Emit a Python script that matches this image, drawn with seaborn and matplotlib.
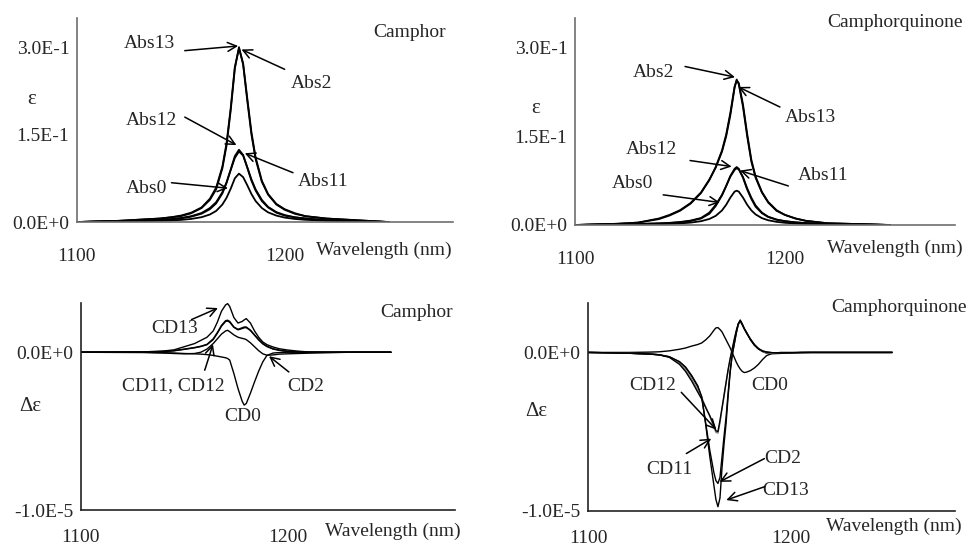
import numpy as np
import pandas as pd
import seaborn as sns
import matplotlib.pyplot as plt

# ---- data ----
# absorption, camphor (wavelength grid in nm)
abs_camphor_wl = [1100, 1120, 1130, 1140, 1145, 1150, 1155, 1160, 1164, 1167, 1170, 1172, 1174, 1176,
                  1178, 1180, 1182, 1184, 1186, 1189, 1192, 1196, 1200, 1205, 1210, 1220, 1230, 1250]
camphor_abs13 = [0.000, 0.002, 0.004, 0.006, 0.008, 0.010, 0.015, 0.024, 0.038, 0.056, 0.092, 0.131, 0.191, 0.263,
                 0.300, 0.270, 0.208, 0.150, 0.108, 0.069, 0.047, 0.030, 0.021, 0.014, 0.010, 0.006, 0.004, 0.000]
camphor_abs2 = [0.000, 0.002, 0.004, 0.006, 0.008, 0.011, 0.016, 0.025, 0.040, 0.059, 0.095, 0.135, 0.195, 0.266,
                0.298, 0.272, 0.212, 0.154, 0.111, 0.071, 0.048, 0.031, 0.022, 0.015, 0.010, 0.006, 0.004, 0.000]
camphor_abs12 = [0.000, 0.0015, 0.0022, 0.0035, 0.0046, 0.0063, 0.0092, 0.0143, 0.022, 0.032, 0.049, 0.067, 0.090, 0.113,
                 0.124, 0.115, 0.093, 0.071, 0.054, 0.036, 0.025, 0.016, 0.011, 0.008, 0.006, 0.003, 0.002, 0.000]
camphor_abs11 = [0.000, 0.0015, 0.0024, 0.0038, 0.0050, 0.0068, 0.0100, 0.0155, 0.024, 0.034, 0.051, 0.068, 0.089, 0.110,
                 0.121, 0.114, 0.094, 0.073, 0.056, 0.038, 0.026, 0.017, 0.012, 0.008, 0.006, 0.003, 0.002, 0.000]
camphor_abs0 = [0.000, 0.0009, 0.0013, 0.0020, 0.0027, 0.0036, 0.0053, 0.0083, 0.0129, 0.019, 0.030, 0.0415, 0.057, 0.075,
                0.083, 0.077, 0.063, 0.048, 0.036, 0.024, 0.0166, 0.011, 0.0076, 0.0052, 0.0038, 0.0022, 0.0015, 0.000]

# absorption, camphorquinone
abs_cq_wl = [1100, 1120, 1130, 1140, 1145, 1150, 1155, 1160, 1164, 1167, 1170, 1172, 1174, 1176, 1177,
             1178, 1180, 1182, 1184, 1186, 1189, 1192, 1196, 1200, 1205, 1210, 1220, 1230, 1250]
cq_abs2 = [0.000, 0.002, 0.004, 0.011, 0.017, 0.025, 0.037, 0.055, 0.077, 0.097, 0.124, 0.150, 0.186, 0.232, 0.246,
           0.238, 0.200, 0.150, 0.107, 0.080, 0.055, 0.038, 0.024, 0.017, 0.011, 0.007, 0.003, 0.002, 0.000]
cq_abs13 = [0.000, 0.002, 0.004, 0.010, 0.016, 0.024, 0.036, 0.054, 0.076, 0.098, 0.126, 0.153, 0.190, 0.234, 0.244,
            0.240, 0.204, 0.154, 0.110, 0.082, 0.056, 0.039, 0.025, 0.017, 0.011, 0.007, 0.003, 0.002, 0.000]
cq_abs12 = [0.000, 0.0011, 0.0016, 0.0025, 0.0033, 0.0046, 0.0068, 0.0109, 0.019, 0.032, 0.050, 0.066, 0.083, 0.095, 0.098,
            0.095, 0.080, 0.060, 0.044, 0.031, 0.020, 0.0135, 0.0089, 0.0063, 0.0043, 0.0031, 0.0019, 0.0012, 0.000]
cq_abs11 = [0.000, 0.0012, 0.0018, 0.0028, 0.0036, 0.0050, 0.0074, 0.0118, 0.021, 0.034, 0.051, 0.066, 0.082, 0.093, 0.096,
            0.094, 0.081, 0.062, 0.046, 0.033, 0.021, 0.014, 0.0092, 0.0065, 0.0045, 0.0032, 0.0020, 0.0012, 0.000]
cq_abs0 = [0.000, 0.0006, 0.0009, 0.0015, 0.0019, 0.0027, 0.0040, 0.0064, 0.0102, 0.0154, 0.0246, 0.0342, 0.0464, 0.0564, 0.058,
           0.0564, 0.0464, 0.0342, 0.0246, 0.0179, 0.0116, 0.0080, 0.0053, 0.0037, 0.0026, 0.0018, 0.0011, 0.0007, 0.000]

# CD, camphor (values in 1E-6)
cd_camphor_wl = [1100, 1130, 1140, 1145, 1150, 1155, 1158, 1161, 1164, 1166, 1168, 1170, 1171, 1172, 1174, 1176,
                 1178, 1179, 1180, 1182, 1184, 1186, 1188, 1190, 1193, 1196, 1200, 1205, 1210, 1220, 1230, 1250]
camphor_cd13 = [0, 0.02, 0.08, 0.15, 0.35, 0.55, 0.75, 0.95, 1.35, 1.9, 2.6, 3.0, 3.08, 2.9, 2.2, 1.85,
                1.95, 2.05, 2.13, 1.85, 1.35, 0.95, 0.65, 0.48, 0.33, 0.22, 0.14, 0.07, 0.02, 0, 0, 0]
camphor_cd11 = [0, 0.01, 0.05, 0.1, 0.2, 0.3, 0.38, 0.5, 0.85, 1.25, 1.7, 2.0, 2.03, 1.95, 1.6, 1.45,
                1.55, 1.6, 1.6, 1.4, 1.1, 0.8, 0.55, 0.38, 0.22, 0.13, 0.06, 0.02, 0, 0, 0, 0]
camphor_cd12 = [0, 0.01, 0.04, 0.09, 0.18, 0.28, 0.36, 0.48, 0.8, 1.2, 1.65, 1.95, 1.98, 1.9, 1.58, 1.42,
                1.5, 1.55, 1.56, 1.38, 1.08, 0.78, 0.53, 0.36, 0.2, 0.12, 0.05, 0.02, 0, 0, 0, 0]
camphor_cd2 = [0, -0.02, -0.05, -0.08, -0.1, -0.08, 0.0, 0.2, 0.55, 0.85, 1.15, 1.35, 1.39, 1.3, 1.1, 0.95,
               0.88, 0.85, 0.8, 0.6, 0.35, 0.1, -0.1, -0.19, -0.17, -0.12, -0.1, -0.08, -0.06, -0.03, 0, 0]
camphor_cd0 = [0, 0, -0.03, -0.05, -0.08, -0.1, -0.12, -0.15, -0.2, -0.25, -0.3, -0.35, -0.4, -0.5, -1.35, -2.3,
               -3.1, -3.35, -3.25, -2.6, -1.88, -1.2, -0.61, -0.2, -0.05, -0.02, 0, 0, 0, 0, 0, 0]

# CD, camphorquinone (values in 1E-6)
cd_cq_wl = [1100, 1120, 1130, 1135, 1140, 1145, 1148, 1151, 1154, 1156, 1158, 1160, 1162, 1163, 1164, 1165,
            1166, 1167, 1168, 1169, 1170, 1171, 1172, 1173, 1174, 1175, 1176, 1177, 1178, 1180, 1182, 1184,
            1186, 1188, 1191, 1195, 1200, 1205, 1210, 1250]
cq_cd12 = [0, -0.05, -0.1, -0.15, -0.31, -0.75, -1.2, -1.8, -2.5, -2.95, -3.5, -4.0, -4.6, -4.95, -5.0, -4.3,
           -3.5, -2.7, -1.9, -1.1, -0.4, 0.2, 0.8, 1.36, 1.8, 2.0, 1.75, 1.5, 1.3, 0.8, 0.45, 0.22,
           0.08, 0.02, -0.02, -0.04, -0.02, -0.01, 0, 0]
cq_cd11 = [0, -0.05, -0.1, -0.14, -0.28, -0.68, -1.1, -1.65, -2.35, -2.85, -3.45, -4.05, -4.75, -5.05, -5.1, -4.45,
           -3.6, -2.8, -1.95, -1.15, -0.45, 0.15, 0.75, 1.3, 1.75, 1.97, 1.75, 1.5, 1.3, 0.82, 0.47, 0.22,
           0.06, -0.03, -0.06, -0.05, -0.03, -0.01, 0, 0]
cq_cd2 = [0, -0.05, -0.1, -0.15, -0.28, -0.6, -0.95, -1.5, -2.15, -2.85, -4.5, -6.2, -7.6, -8.1, -8.28, -7.9,
          -6.6, -5.3, -4.1, -2.6, -1.2, -0.15, 0.5, 1.2, 1.75, 2.0, 1.78, 1.5, 1.25, 0.85, 0.48, 0.22,
          0.06, -0.05, -0.08, -0.06, -0.03, -0.01, 0, 0]
cq_cd13 = [0, -0.05, -0.1, -0.15, -0.27, -0.58, -0.92, -1.45, -2.1, -2.8, -4.6, -6.6, -8.4, -9.3, -9.75, -9.2,
           -7.3, -5.8, -4.5, -2.8, -1.3, -0.2, 0.5, 1.2, 1.8, 2.05, 1.8, 1.5, 1.25, 0.85, 0.5, 0.25,
           0.1, 0.03, -0.02, -0.03, -0.02, 0, 0, 0]
cq_cd0 = [0, 0, 0.02, 0.04, 0.1, 0.2, 0.28, 0.4, 0.5, 0.6, 0.8, 1.05, 1.4, 1.55, 1.57, 1.45,
          1.3, 1.05, 0.8, 0.55, 0.3, 0.0, -0.3, -0.6, -0.85, -1.05, -1.2, -1.27, -1.25, -1.15, -0.98, -0.75,
          -0.45, -0.2, -0.05, 0, 0, 0, 0, 0]


def longDf(wl, curves, scale=1.0):
    rows = []
    for name, vals in curves.items():
        for w, v in zip(wl, vals):
            rows.append((name, w, v * scale))
    return pd.DataFrame(rows, columns=['curve', 'Wavelength', 'value'])


sns.set_style('white')
plt.rcParams['font.family'] = ['Liberation Serif', 'DejaVu Serif']
plt.rcParams['font.size'] = 14

fig = plt.figure(figsize=(9.73, 5.49), dpi=100)


def drawPanel(rect, df, colors, lw, yticks, ylabels, ylim, ylab, ylab_pos, xlab_pos, title, title_xy,
              notes, spine_color, xpad=14):
    ax = fig.add_axes(rect)
    sns.lineplot(data=df, x='Wavelength', y='value', hue='curve', palette=colors, estimator=None,
                 errorbar=None, linewidth=lw, legend=False, ax=ax)
    ax.set_xlim(1100, 1281)
    ax.set_ylim(*ylim)
    ax.set_xticks([1100, 1200])
    ax.set_xticklabels(['1100', '1200'])
    ax.set_yticks(yticks)
    ax.set_yticklabels(ylabels)
    ax.set_xlabel('')
    ax.set_ylabel('')
    for s in ['top', 'right']:
        ax.spines[s].set_visible(False)
    for s in ['left', 'bottom']:
        ax.spines[s].set_color(spine_color)
        ax.spines[s].set_linewidth(1.2)
    ax.tick_params(axis='x', direction='out', length=5, width=1.2, pad=xpad, color=spine_color, labelsize=14)
    ax.tick_params(axis='y', direction='inout', length=7, width=1.2, pad=2, color=spine_color, labelsize=14)
    ax.text(ylab_pos[0], ylab_pos[1], ylab, transform=ax.transAxes, ha='center', va='center', fontsize=15)
    ax.text(xlab_pos[0], xlab_pos[1], 'Wavelength (nm)', transform=ax.transAxes,
            ha='center', va='center', fontsize=14)
    ax.text(title_xy[0], title_xy[1], title, ha='center', va='center', fontsize=14)
    for label, txy, tail, head in notes:
        ax.text(txy[0], txy[1], label, ha='center', va='center', fontsize=14)
        if tail is not None:
            ax.annotate('', xy=head, xytext=tail,
                        arrowprops=dict(arrowstyle='->', color='black', lw=1.1,
                                        shrinkA=0, shrinkB=0, mutation_scale=16))
    return ax


# Camphor absorption
df = longDf(abs_camphor_wl, {'Abs0': camphor_abs0, 'Abs11': camphor_abs11, 'Abs12': camphor_abs12,
                             'Abs2': camphor_abs2, 'Abs13': camphor_abs13})
drawPanel([0.0791, 0.5956, 0.3864, 0.3716], df, ['black'] * 5, 1.3,
          [0, 0.15, 0.3], ['0.0E+0', '1.5E-1', '3.0E-1'], (0, 0.35),
          'ε', (-0.12, 0.6), (0.815, -0.137), 'Camphor', (1260, 0.325),
          [('Abs13', (1135.1, 0.307), (1151.9, 0.294), (1177.6, 0.302)),
           ('Abs2', (1212.8, 0.238), (1200, 0.262), (1179.2, 0.296)),
           ('Abs12', (1135.9, 0.175), (1151.9, 0.180), (1176.8, 0.132)),
           ('Abs11', (1218.4, 0.069), (1204, 0.0846), (1180.8, 0.118)),
           ('Abs0', (1133.5, 0.058), (1145.5, 0.0674), (1172.7, 0.058))],
          '#6e6e6e')

# Camphorquinone absorption
df = longDf(abs_cq_wl, {'Abs0': cq_abs0, 'Abs11': cq_abs11, 'Abs12': cq_abs12,
                        'Abs2': cq_abs2, 'Abs13': cq_abs13})
drawPanel([0.591, 0.5902, 0.3905, 0.377], df, ['black'] * 5, 1.3,
          [0, 0.15, 0.3], ['0.0E+0', '1.5E-1', '3.0E-1'], (0, 0.35),
          'ε', (-0.105, 0.564), (0.842, -0.113), 'Camphorquinone', (1252.4, 0.343),
          [('Abs2', (1137.3, 0.258), (1152.4, 0.268), (1176.2, 0.250)),
           ('Abs13', (1211.9, 0.181), (1197.6, 0.1995), (1177.8, 0.2334)),
           ('Abs12', (1136.5, 0.128), (1154.8, 0.109), (1174.6, 0.0988)),
           ('Abs11', (1218.2, 0.083), (1201.6, 0.066), (1178.6, 0.092)),
           ('Abs0', (1127.5, 0.0707), (1142, 0.051), (1169, 0.038))],
          '#6e6e6e')

# Camphor CD
e6 = 1e-6
df = longDf(cd_camphor_wl, {'CD0': camphor_cd0, 'CD2': camphor_cd2, 'CD11': camphor_cd11,
                            'CD12': camphor_cd12, 'CD13': camphor_cd13}, scale=e6)
drawPanel([0.0832, 0.071, 0.3844, 0.3765], df, ['black'] * 5, 1.0,
          [-1e-5, 0], ['-1.0E-5', '0.0E+0'], (-1e-5, 3.1e-6),
          'Δε', (-0.136, 0.5), (0.835, -0.105), 'Camphor', (1262.2, 2.55 * e6),
          [('CD13', (1145.4, 1.5 * e6), (1153.5, 2.07 * e6), (1166.3, 2.8 * e6)),
           ('CD11, CD12', (1144.6, -2.09 * e6), (1159.9, -1.14 * e6), (1163.9, 0.5 * e6)),
           ('CD2', (1209, -2.2 * e6), (1200.6, -1.25 * e6), (1191, -0.25 * e6)),
           ('CD0', (1178.1, -4.05 * e6), None, None)],
          '#222222', xpad=9)

# Camphorquinone CD
df = longDf(cd_cq_wl, {'CD0': cq_cd0, 'CD2': cq_cd2, 'CD11': cq_cd11,
                       'CD12': cq_cd12, 'CD13': cq_cd13}, scale=e6)
drawPanel([0.6046, 0.0698, 0.3769, 0.3776], df, ['black', 'black', '#808080', 'black', 'black'], 1.0,
          [-1e-5, 0], ['-1.0E-5', '0.0E+0'], (-1e-5, 3.1e-6),
          'Δε', (-0.141, 0.477), (0.832, -0.077), 'Camphorquinone', (1253.3, 2.87 * e6),
          [('CD0', (1189.4, -2.09 * e6), None, None),
           ('CD12', (1132, -2.09 * e6), (1145.9, -2.52 * e6), (1163.2, -4.88 * e6)),
           ('CD11', (1140.2, -7.4 * e6), (1148.4, -6.39 * e6), (1160.7, -5.45 * e6)),
           ('CD2', (1195.9, -6.7 * e6), (1186.9, -6.71 * e6), (1164.8, -8.18 * e6)),
           ('CD13', (1197.6, -8.7 * e6), (1186.9, -8.49 * e6), (1168.1, -9.33 * e6))],
          '#222222', xpad=9)

fig.savefig('out.png', dpi=100)
